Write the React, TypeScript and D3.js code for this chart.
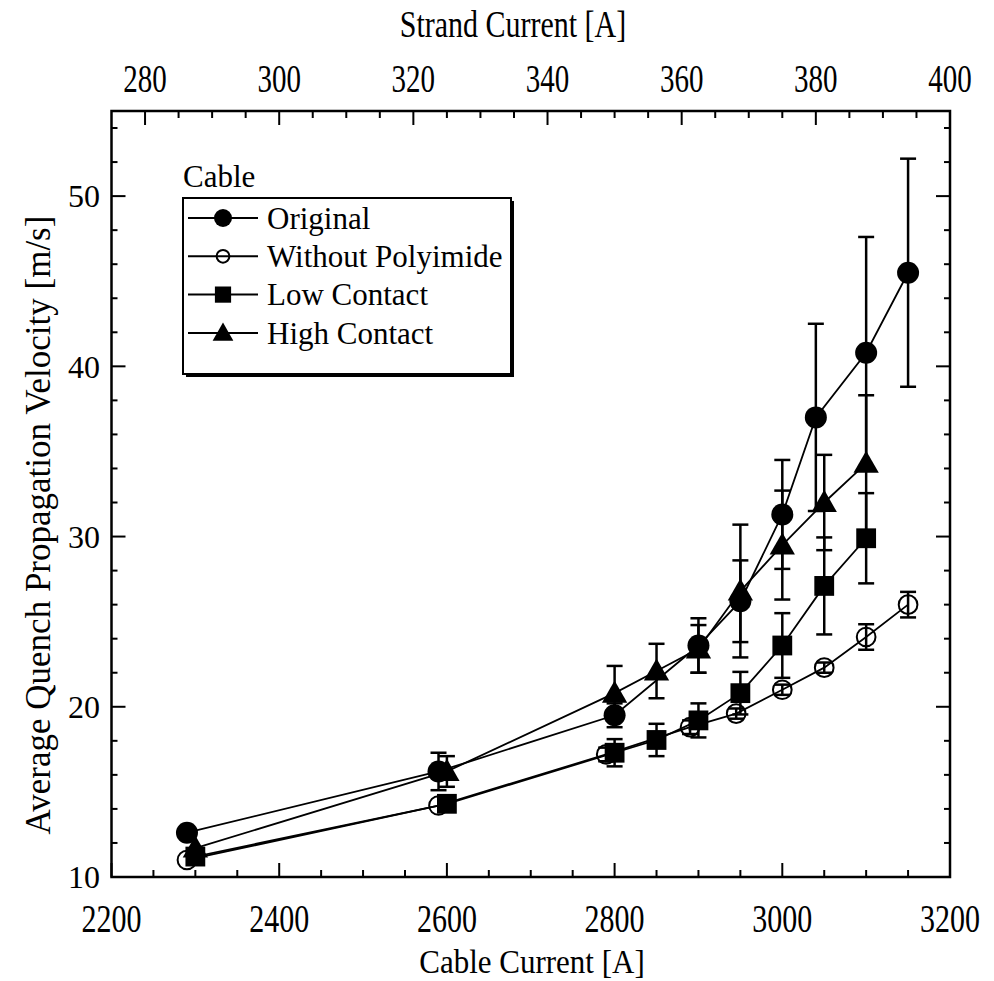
import React from "react";
import * as d3 from "d3";

// ---- data -----------------------------------------------------------
const seriesNames = ["Original", "Without Polyimide", "Low Contact", "High Contact"];

const originalCurrent = [2290, 2590, 2800, 2900, 2950, 3000, 3040, 3100, 3150];
const originalVelocity = [12.6, 16.2, 19.5, 23.6, 26.2, 31.3, 37.0, 40.8, 45.5];
const originalError = [0, 1.1, 0.7, 1.6, 2.4, 3.2, 5.5, 6.8, 6.7];

const noPolyCurrent = [2290, 2590, 2790, 2890, 2945, 3000, 3050, 3100, 3150];
const noPolyVelocity = [11.0, 14.2, 17.2, 18.8, 19.6, 21.0, 22.3, 24.1, 26.0];
const noPolyError = [0, 0, 0.4, 0.4, 0.3, 0.3, 0.3, 0.75, 0.75];

const lowCurrent = [2300, 2600, 2800, 2850, 2900, 2950, 3000, 3050, 3100];
const lowVelocity = [11.2, 14.3, 17.3, 18.05, 19.2, 20.8, 23.6, 27.1, 29.9];
const lowError = [0, 0, 0.8, 0.95, 1.0, 1.25, 1.9, 2.85, 2.65];

const highCurrent = [2300, 2600, 2800, 2850, 2900, 2950, 3000, 3050, 3100];
const highVelocity = [11.7, 16.2, 20.8, 22.1, 23.4, 26.8, 29.5, 32.0, 34.3];
const highError = [0, 0.9, 1.6, 1.6, 1.4, 3.9, 3.2, 2.8, 4.0];

const cableTicks = [2200, 2400, 2600, 2800, 3000, 3200];
const strandTicks = [280, 300, 320, 340, 360, 380, 400];
const velocityTicks = [10, 20, 30, 40, 50];

const CABLE_PER_STRAND = 8;

// ---- layout ---------------------------------------------------------
const W = 994;
const H = 981;
const left = 111.5;
const right = 950;
const top = 111;
const bottom = 877;
const FONT = "'Liberation Serif', 'Times New Roman', serif";

type Marker = "disc" | "ring" | "square" | "triangle";
type Series = { name: string; marker: Marker; current: number[]; velocity: number[]; error: number[] };

const series: Series[] = [
  { name: seriesNames[1], marker: "ring", current: noPolyCurrent, velocity: noPolyVelocity, error: noPolyError },
  { name: seriesNames[2], marker: "square", current: lowCurrent, velocity: lowVelocity, error: lowError },
  { name: seriesNames[3], marker: "triangle", current: highCurrent, velocity: highVelocity, error: highError },
  { name: seriesNames[0], marker: "disc", current: originalCurrent, velocity: originalVelocity, error: originalError },
];

const legendOrder: Marker[] = ["disc", "ring", "square", "triangle"];

function Symbol({ kind, x, y, size }: { kind: Marker; x: number; y: number; size: number }) {
  if (kind === "disc") return <circle cx={x} cy={y} r={size} fill="#000" />;
  if (kind === "ring")
    return <circle cx={x} cy={y} r={size * 0.85} fill="none" stroke="#000" strokeWidth={2} />;
  if (kind === "square") {
    const s = size * 0.9;
    return <rect x={x - s} y={y - s} width={2 * s} height={2 * s} fill="#000" />;
  }
  const s = size * 1.15;
  const pts = [
    [x, y - s],
    [x + s, y + s * 0.75],
    [x - s, y + s * 0.75],
  ];
  return <polygon points={pts.map((p) => p.join(",")).join(" ")} fill="#000" />;
}

// Horizontal label drawn with a taller-than-normal glyph shape.
function TallText({
  x,
  y,
  size,
  stretch,
  children,
}: {
  x: number;
  y: number;
  size: number;
  stretch: number;
  children: React.ReactNode;
}) {
  return (
    <text
      transform={`translate(${x},${y}) scale(1,${stretch})`}
      fontSize={size}
      textAnchor="middle"
      style={{ fontFamily: FONT }}
    >
      {children}
    </text>
  );
}

export default function App() {
  const x = d3.scaleLinear().domain([2200, 3200]).range([left, right]);
  const xs = d3
    .scaleLinear()
    .domain([2200 / CABLE_PER_STRAND, 3200 / CABLE_PER_STRAND])
    .range([left, right]);
  const y = d3.scaleLinear().domain([10, 55]).range([bottom, top]);

  const line = d3
    .line<[number, number]>()
    .x((d) => x(d[0]))
    .y((d) => y(d[1]));

  const cableMinor = d3.range(2200, 3201, 50);
  const strandMinor = d3.range(280, 401, 5);
  const velMinor = d3.range(10, 55.01, 2);

  const capW = 8;
  const serif = { fontFamily: FONT };

  return (
    <svg
      width={W}
      height={H}
      style={{ position: "absolute", left: 0, top: 0, background: "#fff", fontFamily: FONT }}
    >
      <rect width={W} height={H} fill="#fff" />

      {/* ticks, all pointing inward */}
      <g stroke="#000" strokeWidth={2}>
        {cableMinor.map((v) => {
          const major = v % 200 === 0;
          const len = major ? 14 : 7;
          return <line key={"b" + v} x1={x(v)} x2={x(v)} y1={bottom} y2={bottom - len} />;
        })}
        {strandMinor.map((v) => {
          const major = v % 20 === 0;
          const len = major ? 14 : 7;
          return <line key={"t" + v} x1={xs(v)} x2={xs(v)} y1={top} y2={top + len} />;
        })}
        {velMinor.map((v) => {
          const major = Math.abs(v % 10) < 1e-6;
          const len = major ? 14 : 6;
          return (
            <g key={"v" + v}>
              <line x1={left} x2={left + len} y1={y(v)} y2={y(v)} />
              <line x1={right} x2={right - len} y1={y(v)} y2={y(v)} />
            </g>
          );
        })}
      </g>

      {/* frame */}
      <rect
        x={left}
        y={top}
        width={right - left}
        height={bottom - top}
        fill="none"
        stroke="#000"
        strokeWidth={2.5}
      />

      {/* tick labels */}
      <g fill="#000">
        {cableTicks.map((v) => (
          <TallText key={"bl" + v} x={x(v)} y={932} size={30} stretch={1.35}>
            {v}
          </TallText>
        ))}
        {strandTicks.map((v) => (
          <TallText key={"tl" + v} x={xs(v)} y={92} size={29} stretch={1.35}>
            {v}
          </TallText>
        ))}
        {velocityTicks.map((v) => (
          <text
            key={"ll" + v}
            x={100}
            y={y(v)}
            dy="0.35em"
            textAnchor="end"
            fontSize={32}
            style={serif}
          >
            {v}
          </text>
        ))}
      </g>

      {/* axis titles */}
      <TallText x={532} y={973} size={31} stretch={1.1}>
        Cable Current [A]
      </TallText>
      <TallText x={513} y={37} size={30} stretch={1.25}>
        Strand Current [A]
      </TallText>
      <text
        transform={`translate(50, ${525}) rotate(-90)`}
        fontSize={35}
        textAnchor="middle"
        style={serif}
      >
        Average Quench Propagation Velocity [m/s]
      </text>

      {/* series */}
      {series.map((s) => {
        const pts = s.current.map((c, i) => [c, s.velocity[i]] as [number, number]);
        return (
          <g key={s.name}>
            <path d={line(pts) || ""} fill="none" stroke="#000" strokeWidth={1.8} />
            <g stroke="#000" strokeWidth={2.5}>
              {pts.map(([c, v], i) => {
                const e = s.error[i];
                if (!e) return null;
                const cx = x(c);
                return (
                  <g key={i}>
                    <line x1={cx} x2={cx} y1={y(v + e)} y2={y(v - e)} />
                    <line x1={cx - capW} x2={cx + capW} y1={y(v + e)} y2={y(v + e)} />
                    <line x1={cx - capW} x2={cx + capW} y1={y(v - e)} y2={y(v - e)} />
                  </g>
                );
              })}
            </g>
            {pts.map(([c, v], i) => (
              <Symbol key={i} kind={s.marker} x={x(c)} y={y(v)} size={11} />
            ))}
          </g>
        );
      })}

      {/* legend */}
      <text x={183} y={187} fontSize={31} style={serif}>
        Cable
      </text>
      <rect x={186} y={201} width={328} height={176} fill="#000" />
      <rect x={183} y={198} width={328} height={176} fill="#fff" stroke="#000" strokeWidth={2} />
      {legendOrder.map((m, i) => {
        const cy = 218 + i * 38.3;
        return (
          <g key={m}>
            <line x1={188} x2={258} y1={cy} y2={cy} stroke="#000" strokeWidth={2} />
            <Symbol kind={m} x={223} y={cy} size={m === "ring" ? 7.5 : 9} />
            <text x={267} y={cy} dy="0.35em" fontSize={31} style={serif}>
              {seriesNames[i]}
            </text>
          </g>
        );
      })}
    </svg>
  );
}
